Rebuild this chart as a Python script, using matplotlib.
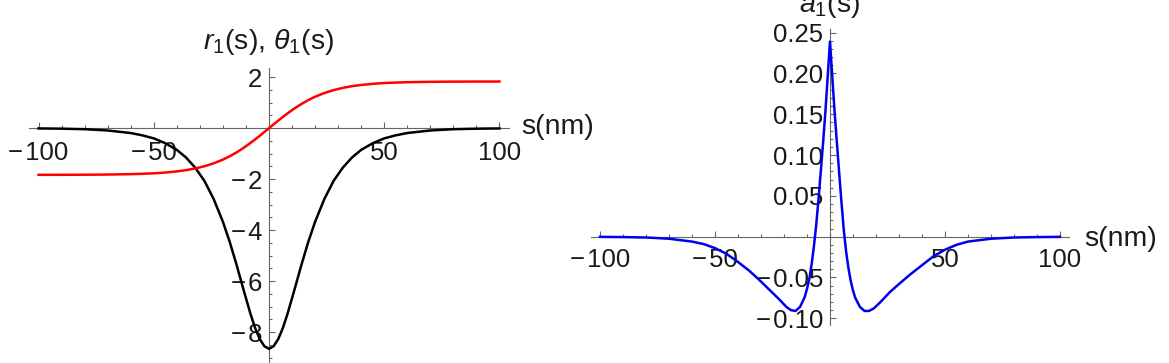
import matplotlib
matplotlib.use("Agg")
import matplotlib.pyplot as plt
from matplotlib.ticker import MultipleLocator

plt.rcParams['font.family'] = ['Liberation Sans', 'DejaVu Sans']
plt.rcParams['mathtext.fontset'] = 'custom'
plt.rcParams['mathtext.rm'] = 'Liberation Sans'
plt.rcParams['mathtext.it'] = 'Liberation Sans:italic'

# left panel: r1(s) (black) and theta1(s) (red)
s_left = [-100, -90, -80, -70, -60, -55, -50, -45, -40, -36, -32, -28, -24, -20, -17, -14,
          -11, -8, -6, -4, -2, 0, 2, 4, 6, 8, 11, 14, 17, 20, 24, 28, 32, 36, 40, 45, 50,
          55, 60, 70, 80, 90, 100]
r1 = [-0.01, -0.02, -0.04, -0.09, -0.19, -0.28, -0.40, -0.59, -0.85, -1.15, -1.55, -2.07,
      -2.78, -3.67, -4.47, -5.38, -6.35, -7.29, -7.84, -8.27, -8.55, -8.65, -8.55, -8.27,
      -7.84, -7.29, -6.35, -5.38, -4.47, -3.67, -2.78, -2.07, -1.55, -1.15, -0.85, -0.59,
      -0.40, -0.28, -0.19, -0.09, -0.04, -0.02, -0.01]
theta1 = [-1.829, -1.828, -1.825, -1.818, -1.803, -1.789, -1.770, -1.739, -1.695, -1.646,
          -1.580, -1.492, -1.378, -1.232, -1.099, -0.945, -0.771, -0.577, -0.439, -0.296,
          -0.149, 0.0, 0.149, 0.296, 0.439, 0.577, 0.771, 0.945, 1.099, 1.232, 1.378, 1.492,
          1.580, 1.646, 1.695, 1.739, 1.770, 1.789, 1.803, 1.818, 1.825, 1.828, 1.829]

# right panel: a1(s)
s_right = [-100, -90, -80, -70, -60, -55, -50, -45, -40, -35, -30, -26, -22, -19, -17, -15,
           -13, -11, -10, -9, -8, -7, -6, -5, -4, -3, -2, -1, 0, 1, 2, 3, 4, 5, 6, 7, 8, 9,
           10, 11, 13, 15, 17, 19, 22, 26, 30, 35, 40, 45, 50, 55, 60, 70, 80, 90, 100]
a1 = [-0.0002, -0.0005, -0.001, -0.0025, -0.006, -0.009, -0.014, -0.021, -0.031, -0.042,
      -0.055, -0.066, -0.077, -0.086, -0.090, -0.091, -0.086, -0.074, -0.064, -0.052, -0.034,
      -0.012, 0.014, 0.046, 0.080, 0.115, 0.153, 0.196, 0.239, 0.196, 0.153, 0.115, 0.078,
      0.042, 0.008, -0.018, -0.038, -0.054, -0.066, -0.075, -0.086, -0.091, -0.091, -0.088,
      -0.080, -0.068, -0.058, -0.046, -0.035, -0.024, -0.016, -0.010, -0.006, -0.0025, -0.001,
      -0.0005, -0.0002]

M = '\u2212\u200a'
x_ticks = [-100, -50, 50, 100]
x_labels = [M + '100', M + '50', '50', '100']
left_yticks = [2, -2, -4, -6, -8]
left_ylabels = ['2', M + '2', M + '4', M + '6', M + '8']
right_yticks = [0.25, 0.20, 0.15, 0.10, 0.05, -0.05, -0.10]
right_ylabels = ['0.25', '0.20', '0.15', '0.10', '0.05', M + '0.05', M + '0.10']

axis_col = '#666666'
txt_col = '#1a1a1a'
fs = 18.5
fs_lab = 20.5

fig = plt.figure(figsize=(11.69, 3.63), dpi=100)
ax1 = fig.add_axes([0.02506, -0.003, 0.4101, 0.8157])
ax2 = fig.add_axes([0.5054, 0.1052, 0.4092, 0.8138])


def style_axes(ax):
    for side in ['top', 'right']:
        ax.spines[side].set_visible(False)
    ax.spines['left'].set_position(('data', 0))
    ax.spines['bottom'].set_position(('data', 0))
    for side in ['left', 'bottom']:
        ax.spines[side].set_color(axis_col)
        ax.spines[side].set_linewidth(0.8)
    ax.xaxis.set_minor_locator(MultipleLocator(10))
    ax.tick_params(which='both', direction='in', color=axis_col, width=0.8,
                   labelsize=fs, labelcolor=txt_col)
    ax.tick_params(which='major', length=4.5)
    ax.tick_params(which='minor', length=2.3)
    ax.tick_params(axis='y', pad=5)
    ax.set_xticks(x_ticks, x_labels)
    ax.set_xlim(-104, 104)
    ax.patch.set_visible(False)


style_axes(ax1)
ax1.tick_params(axis='x', pad=9.5)
ax1.plot(s_left, r1, color='black', lw=1.8, zorder=3)
ax1.plot(s_left, theta1, color='#ff0000', lw=1.8, zorder=3)
ax1.set_ylim(-9.25, 2.36)
ax1.set_yticks(left_yticks, left_ylabels)
ax1.yaxis.set_minor_locator(MultipleLocator(0.5))
ax1.annotate('$r_1$(s), $\\theta_1$(s)', xy=(0, 1), xycoords=('data', 'axes fraction'),
             xytext=(0, 8), textcoords='offset points', ha='center', va='bottom',
             fontsize=fs_lab, color=txt_col)
ax1.annotate('s(nm)', xy=(1, 0), xycoords=('axes fraction', 'data'),
             xytext=(9, 1), textcoords='offset points', ha='left', va='center',
             fontsize=fs_lab, color=txt_col)

style_axes(ax2)
ax2.tick_params(axis='x', pad=8.5)
ax2.plot(s_right, a1, color='#0000ee', lw=1.8, zorder=3)
ax2.set_ylim(-0.108, 0.254)
ax2.set_yticks(right_yticks, right_ylabels)
ax2.yaxis.set_minor_locator(MultipleLocator(0.01))
ax2.annotate('$a_1$(s)', xy=(0, 1), xycoords=('data', 'axes fraction'),
             xytext=(0, 7), textcoords='offset points', ha='center', va='bottom',
             fontsize=fs_lab, color=txt_col, annotation_clip=False)
ax2.annotate('s(nm)', xy=(1, 0), xycoords=('axes fraction', 'data'),
             xytext=(11, -2), textcoords='offset points', ha='left', va='center',
             fontsize=fs_lab, color=txt_col)

fig.savefig('out.png', dpi=100)
